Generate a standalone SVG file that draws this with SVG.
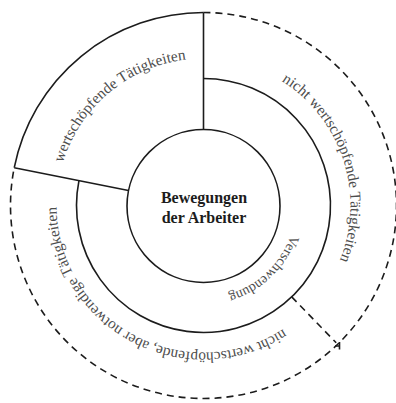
<svg xmlns="http://www.w3.org/2000/svg" width="396" height="403" viewBox="0 0 396 403">
  <style>
    .ln { fill: none; stroke: #1c1c1c; stroke-width: 1.6; }
    .dash { stroke-dasharray: 7 5; }
    .ring { font-family: "Liberation Serif", "Times New Roman", serif; font-size: 15.3px; fill: #4d4d4d; }
    .small { font-size: 14px; }
    .hub { font-family: "Liberation Serif", "Times New Roman", serif; font-size: 16px; font-weight: bold; fill: #1c1c1c; text-anchor: middle; }
  </style>
  <defs>
    <!-- clockwise arcs used as baselines; each one is centred on its label's mid angle -->
    <path id="arc-wert" d="M229.03,350.27 A147,147 0 1,1 341.63,255.78"/>
    <path id="arc-nicht" d="M59.71,174.94 A147,147 0 1,1 105.14,314.74"/>
    <path id="arc-notw" d="M328.57,128.26 A147,147 0 1,1 199.14,58.56"/>
    <path id="arc-versch" d="M182.02,116.04 A92,92 0 1,1 115.29,179.37"/>
  </defs>

  <!-- outer ring: solid segment for value-adding work, dashed for the rest -->
  <g id="outer-ring">
    <path class="ln" d="M14.24,167.69 A193,193 0 0,1 203.5,12.5"/>
    <path class="ln dash" d="M203.5,12.5 A193,193 0 1,1 14.24,167.69"/>
  </g>

  <!-- middle ring: waste band -->
  <g id="middle-ring">
    <path class="ln" d="M203.5,78.5 A127,127 0 1,1 78.96,180.62"/>
  </g>

  <!-- separating lines between the sectors -->
  <g id="connectors">
    <line class="ln" x1="203.5" y1="12.5" x2="203.5" y2="129"/>
    <line class="ln" x1="14.24" y1="167.69" x2="128.48" y2="190.51"/>
    <line class="ln dash" x1="291.7" y1="296.9" x2="336.2" y2="342.8"/>
    <path class="ln" d="M335,346 L339.5,346 M339.5,342 L339.5,349.5"/>
  </g>

  <g id="sector-wertschoepfend">
    <text class="ring"><textPath href="#arc-wert" startOffset="50%" text-anchor="middle">wertschöpfende Tätigkeiten</textPath></text>
  </g>

  <g id="sector-nicht-wertschoepfend">
    <text class="ring"><textPath href="#arc-nicht" startOffset="50%" text-anchor="middle">nicht wertschöpfende Tätigkeiten</textPath></text>
  </g>

  <g id="sector-notwendig">
    <text class="ring"><textPath href="#arc-notw" startOffset="50%" text-anchor="middle">nicht wertschöpfende, aber notwendige Tätigkeiten</textPath></text>
  </g>

  <g id="sector-verschwendung">
    <text class="ring small"><textPath href="#arc-versch" startOffset="50%" text-anchor="middle">Verschwendung</textPath></text>
  </g>

  <g id="hub">
    <circle class="ln" cx="203.5" cy="206" r="76.5"/>
    <text class="hub" x="204" y="203">Bewegungen</text>
    <text class="hub" x="204" y="223">der Arbeiter</text>
  </g>
</svg>
